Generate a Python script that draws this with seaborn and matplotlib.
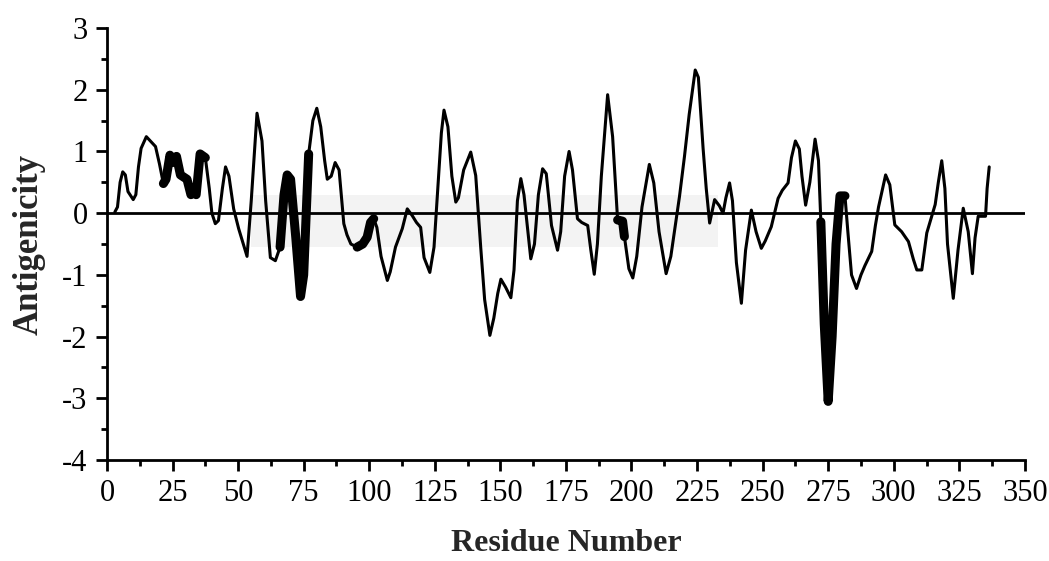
import pandas as pd
import seaborn as sns
from matplotlib import pyplot as plt
from matplotlib.ticker import MultipleLocator


# values
residue = [
    3, 4, 5, 6, 7, 8, 10, 11, 12, 13, 15, 17, 18.5, 20, 21.5, 22.5, 24, 25, 26.5, 28,
    30.5, 32, 33, 34, 35.5, 37.5, 39, 40, 41.3, 42.5, 44, 45.2, 46.5, 48.3, 50.2, 52, 53.4, 55, 57.2, 59.1,
    60.5, 62.3, 64.2, 66, 67.5, 68.7, 70, 72, 73.8, 75, 76.9, 78.5, 80, 81.5, 83, 84, 85.5, 87, 88.5, 90.3,
    91.5, 93, 95.4, 97.5, 99.2, 100.5, 101.7, 102.9, 104.5, 106.9, 108, 110, 112.6, 114.5, 116.4, 118, 119.6, 120.9, 123.1, 124.7,
    126, 127.5, 128.5, 130, 131.5, 133, 134, 136, 138.7, 140.6, 142.5, 144, 146, 147.5, 149, 150.2, 152, 154, 155.2, 156.5,
    157.8, 159, 161.6, 163, 164.5, 166.1, 167.5, 169.5, 171.8, 173, 174.5, 176.2, 177.5, 179.4, 181, 183.3, 184.5, 185.8, 187, 188.5,
    190.9, 192.8, 194.7, 196.6, 197.3, 199, 200.5, 202, 204, 206.8, 208.5, 210.5, 213.2, 215, 218.3, 220.2, 222, 224.3, 225.5, 227.3,
    228.5, 229.8, 231.7, 233.5, 234.9, 236, 237.4, 238.5, 240, 241.9, 243.5, 245.7, 247.5, 249.5, 251, 253.3, 255.9, 257.5, 259.7, 261,
    262.5, 264, 265, 266.4, 268, 270, 271.3, 272.2, 273.5, 275, 276.5, 278, 279.5, 281.4, 282.5, 283.9, 285.8, 287.5, 289, 291.6,
    293, 294.2, 296.9, 298.5, 300.4, 303, 305.6, 307.5, 308.8, 310.7, 312.6, 315.8, 317, 318.3, 319.5, 320.5, 322.7, 324.5, 326.5, 328.4,
    330, 331, 332.2, 335, 335.6, 336.4,
]
antigenicity = [
    0.02, 0.1, 0.5, 0.67, 0.62, 0.35, 0.22, 0.3, 0.75, 1.05, 1.24, 1.15, 1.08, 0.8, 0.48, 0.55, 0.94, 0.82, 0.92, 0.62,
    0.55, 0.3, 0.35, 0.3, 0.96, 0.9, 0.4, 0.0, -0.17, -0.12, 0.4, 0.75, 0.6, 0.07, -0.25, -0.5, -0.7, 0.2, 1.62, 1.17,
    0.2, -0.72, -0.77, -0.55, 0.3, 0.62, 0.55, -0.4, -1.35, -1.0, 0.96, 1.5, 1.7, 1.4, 0.85, 0.55, 0.6, 0.82, 0.7, -0.17,
    -0.35, -0.5, -0.55, -0.5, -0.39, -0.15, -0.09, -0.23, -0.7, -1.09, -0.95, -0.55, -0.25, 0.07, -0.04, -0.15, -0.23, -0.72, -0.96, -0.55,
    0.3, 1.3, 1.67, 1.4, 0.6, 0.18, 0.25, 0.7, 0.99, 0.61, -0.55, -1.4, -1.98, -1.7, -1.3, -1.07, -1.2, -1.37, -0.92, 0.2,
    0.56, 0.3, -0.74, -0.5, 0.3, 0.72, 0.64, -0.2, -0.6, -0.3, 0.6, 1.0, 0.7, -0.09, -0.15, -0.2, -0.6, -0.99, -0.5, 0.6,
    1.92, 1.24, -0.11, -0.13, -0.38, -0.9, -1.05, -0.7, 0.1, 0.79, 0.49, -0.3, -0.98, -0.7, 0.27, 0.92, 1.6, 2.32, 2.2, 1.05,
    0.4, -0.16, 0.22, 0.12, 0.0, 0.25, 0.49, 0.2, -0.8, -1.46, -0.6, 0.05, -0.3, -0.57, -0.45, -0.22, 0.24, 0.37, 0.49, 0.9,
    1.17, 1.04, 0.6, 0.13, 0.5, 1.2, 0.85, -0.14, -1.8, -3.05, -2.0, -0.5, 0.28, 0.28, -0.3, -1.0, -1.22, -1.0, -0.85, -0.62,
    -0.2, 0.1, 0.62, 0.46, -0.19, -0.3, -0.46, -0.75, -0.92, -0.92, -0.32, 0.14, 0.5, 0.85, 0.4, -0.5, -1.38, -0.6, 0.08, -0.3,
    -0.98, -0.4, -0.05, -0.05, 0.4, 0.75,
]

# stretches drawn with a heavy stroke
thick_ranges = [(21.5, 37.5), (66, 76.9), (95.4, 101.7), (194.7, 197.3), (272.2, 281.4)]

x_ticks = list(range(0, 351, 25))
y_ticks = list(range(-4, 4))

df = pd.DataFrame({"Residue": residue, "Antigenicity": antigenicity})


def main():
    sns.set_style("ticks")
    plt.rcParams["font.family"] = ["Liberation Serif", "DejaVu Serif"]
    plt.rcParams["axes.unicode_minus"] = False

    fig, ax = plt.subplots(figsize=(10.49, 5.61), dpi=100)
    fig.subplots_adjust(left=0.102, right=0.977, top=0.95, bottom=0.18)

    # faint grey band from the scan
    ax.fill_between([55, 233], -0.55, 0.3, color="#f3f3f3", lw=0, zorder=0)
    ax.axhline(0, color="black", lw=2, zorder=1)

    sns.lineplot(data=df, x="Residue", y="Antigenicity", color="black", lw=2.2,
                 estimator=None, sort=False, ax=ax, zorder=2)
    for lo, hi in thick_ranges:
        part = df[(df.Residue >= lo) & (df.Residue <= hi)]
        sns.lineplot(data=part, x="Residue", y="Antigenicity", color="black", lw=6.5,
                     estimator=None, sort=False, ax=ax, zorder=3)

    ax.set_xlim(0, 350)
    ax.set_ylim(-4, 3)
    ax.set_xticks(x_ticks)
    ax.set_yticks(y_ticks)
    ax.xaxis.set_minor_locator(MultipleLocator(12.5))
    ax.yaxis.set_minor_locator(MultipleLocator(0.5))
    ax.tick_params(which="major", length=8, width=2, labelsize=22, colors="black", pad=6)
    ax.tick_params(which="minor", length=4.5, width=2, colors="black")

    sns.despine(ax=ax)
    for side in ["left", "bottom"]:
        ax.spines[side].set_linewidth(2)
        ax.spines[side].set_color("black")

    ax.set_xlabel("Residue Number", fontsize=23, fontweight="bold", labelpad=15)
    ax.set_ylabel("Antigenicity", fontsize=25, fontweight="bold", labelpad=12)

    plt.savefig("out.png", dpi=100)


if __name__ == "__main__":
    main()
